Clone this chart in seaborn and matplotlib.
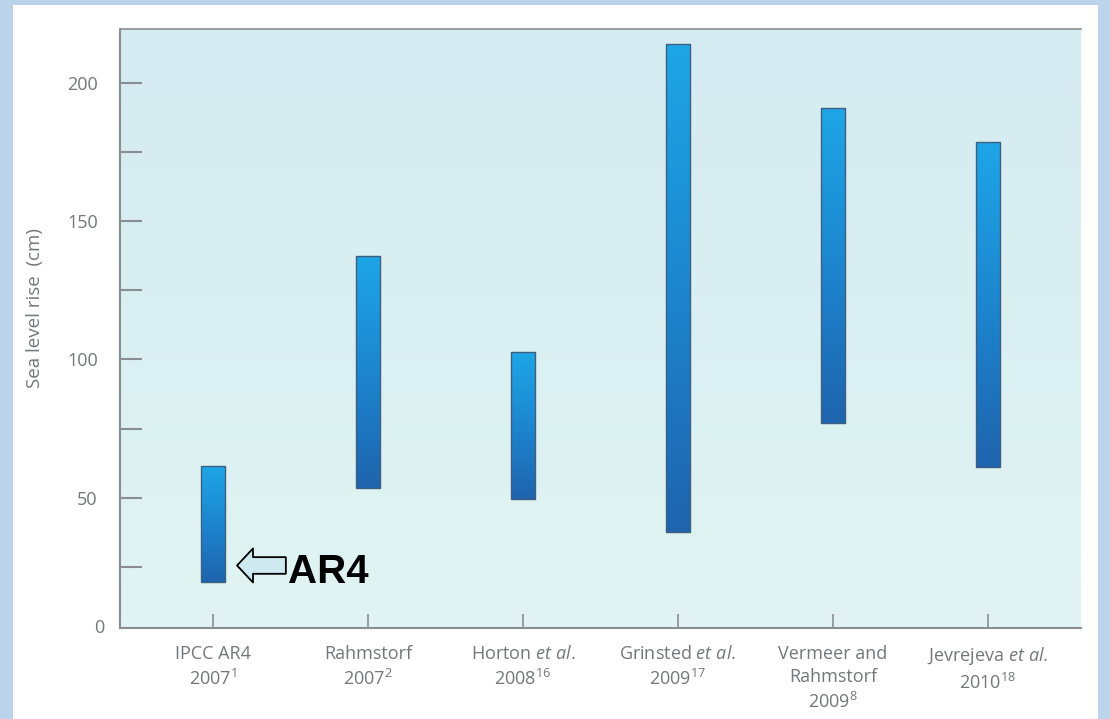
import numpy as np
import pandas as pd
import matplotlib
matplotlib.use("Agg")
import matplotlib.pyplot as plt
import seaborn as sns
from matplotlib.colors import LinearSegmentedColormap
from matplotlib.patches import Rectangle

# Sea level rise projections by 2100 (cm)
studies = ["IPCC AR4", "Rahmstorf", "Horton", "Grinsted", "Vermeer", "Jevrejeva"]
low = [19.5, 53.5, 49.5, 37.5, 77, 61]
high = [61.5, 137.5, 102.5, 214, 191, 178.5]
tick_labels = [
    "IPCC AR4\n2007$^{1}$",
    "Rahmstorf\n2007$^{2}$",
    "Horton $\\mathit{et\\ al.}$\n2008$^{16}$",
    "Grinsted $\\mathit{et\\ al.}$\n2009$^{17}$",
    "Vermeer and\nRahmstorf\n2009$^{8}$",
    "Jevrejeva $\\mathit{et\\ al.}$\n2010$^{18}$",
]
y_ticks = [50, 100, 150, 200]
y_minor = [25, 75, 125, 175]

df = pd.DataFrame({"study": studies, "low": low, "high": high})
df["span"] = df["high"] - df["low"]

sns.set_theme(style="white")
plt.rcParams["font.family"] = ["Open Sans", "DejaVu Sans"]
plt.rcParams["mathtext.fontset"] = "custom"
plt.rcParams["mathtext.rm"] = "Open Sans"
plt.rcParams["mathtext.it"] = "Open Sans:italic"
plt.rcParams["mathtext.bf"] = "Open Sans:bold"

grey = "#747678"

fig = plt.figure(figsize=(11.1, 7.19), dpi=100, facecolor="#bcd4eb")
# white panel sitting on the blue slide background
fig.add_artist(Rectangle((13 / 1110, 0), (1098 - 13) / 1110, 1 - 5 / 719,
                         transform=fig.transFigure, facecolor="white",
                         edgecolor="none", zorder=0))
ax = fig.add_axes([120 / 1110, 91 / 719, 961 / 1110, 599 / 719])
ax.set_facecolor("#dcf1f2")

# soft gradient in the plot area
bg = np.linspace(0, 1, 100).reshape(-1, 1)
bg_cmap = LinearSegmentedColormap.from_list("bg", ["#e1f4f3", "#d4ebf1"])
ax.imshow(bg, extent=[0, 1, 0, 1], transform=ax.transAxes, origin="lower",
          aspect="auto", cmap=bg_cmap, zorder=0)

sns.barplot(data=df, x="study", y="span", bottom=df["low"], width=0.15,
            errorbar=None, color="#1b8fd6", edgecolor="#3d5f80", linewidth=1.0,
            ax=ax, zorder=3)

# vertical gradient inside each bar, light at top, dark at bottom
bar_cmap = LinearSegmentedColormap.from_list("bar", ["#1f64ae", "#1c86cf", "#1ea6e6"])
grad = np.linspace(0, 1, 200).reshape(-1, 1)
for p in ax.patches:
    x0, y0 = p.get_x(), p.get_y()
    x1, y1 = x0 + p.get_width(), y0 + p.get_height()
    im = ax.imshow(grad, extent=[x0, x1, y0, y1], origin="lower", aspect="auto",
                   cmap=bar_cmap, zorder=2)
    im.set_clip_path(p)
    p.set_facecolor("none")

# the zero line sits just below the frame in the original
ax.set_xlim(-0.6, 5.6)
ax.set_ylim(2.9, 219.4)

ax.set_yticks(y_ticks)
ax.set_yticks(y_minor, minor=True)
ax.set_xticks(range(len(studies)))
ax.set_xticklabels(tick_labels, linespacing=1.36)
ax.tick_params(axis="y", which="both", direction="in", length=16, width=1.5,
               color="#8a8e93", left=True, pad=16, labelsize=13, labelcolor=grey)
ax.tick_params(axis="x", direction="in", length=10, width=1.2, color="#8a8e93",
               bottom=True, pad=12, labelsize=13, labelcolor=grey)
ax.text(-16 / 961, 0, "0", transform=ax.transAxes, ha="right", va="center",
        fontsize=13, color=grey)

for side in ["left", "bottom", "top"]:
    ax.spines[side].set_color("#8a8e93")
ax.spines["left"].set_linewidth(1.5)
ax.spines["bottom"].set_linewidth(1.5)
ax.spines["top"].set_linewidth(1.2)
ax.spines["right"].set_visible(False)

ax.set_xlabel("")
ax.set_ylabel("Sea level rise  (cm)", fontsize=13.5, color=grey)
ax.yaxis.set_label_coords(-0.079, 0.535)

# AR4 call-out
ax.annotate("", xy=(0.155, 25.5), xytext=(0.47, 25.5),
            arrowprops=dict(arrowstyle="simple,head_length=1.15,head_width=2.45,tail_width=1.2",
                            fc="#cde8ee", ec="black", lw=1.3, mutation_scale=10,
                            shrinkA=0, shrinkB=0), zorder=5)
ax.text(0.485, 23.1, "AR4", fontsize=29, fontweight="bold",
        family=["Liberation Sans", "DejaVu Sans"], color="black",
        va="center", ha="left", zorder=5)

fig.savefig("out.png", dpi=100, facecolor=fig.get_facecolor())
